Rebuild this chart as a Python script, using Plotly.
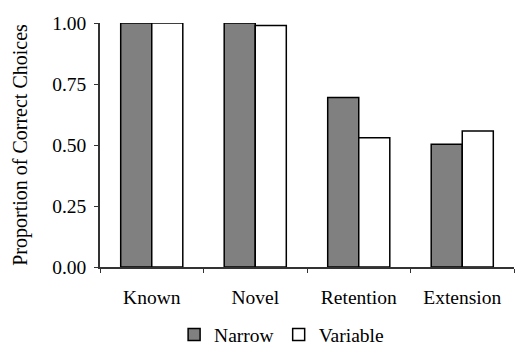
import plotly.graph_objects as go

categories = ["Known", "Novel", "Retention", "Extension"]
narrow = [1.00, 1.00, 0.695, 0.503]
variable = [1.00, 0.99, 0.53, 0.557]
y_ticks = [0, 0.25, 0.5, 0.75, 1.0]
y_labels = ["0.00", "0.25", "0.50", "0.75", "1.00"]

fam = "'Times New Roman', 'Liberation Serif', Times, serif"
font = dict(family=fam, size=19.5, color="#000")
title_font = dict(family=fam, size=20, color="#000")

fig = go.Figure()
fig.add_trace(go.Bar(name="Narrow", x=categories, y=narrow,
                     marker=dict(color="#808080", line=dict(color="#000", width=1.5))))
fig.add_trace(go.Bar(name="Variable", x=categories, y=variable,
                     marker=dict(color="#ffffff", line=dict(color="#000", width=1.5))))

fig.update_layout(
    width=518, height=345,
    margin=dict(l=100, r=4, t=23, b=78, autoexpand=False),
    plot_bgcolor="white", paper_bgcolor="white",
    font=font,
    barmode="group", bargap=0.4, bargroupgap=0,
    showlegend=True,
    legend=dict(orientation="h", x=0.179, xanchor="left", y=-0.198, yanchor="top",
                font=font, itemwidth=30, bgcolor="rgba(0,0,0,0)"),
    xaxis=dict(showline=True, linecolor="#333", linewidth=1.5, ticks="outside",
               tickson="boundaries", ticklen=4, tickcolor="#333", showgrid=False,
               tickfont=font, automargin=False, ticklabelstandoff=12),
    yaxis=dict(range=[0, 1.0], tickvals=y_ticks, ticktext=y_labels, showline=True,
               linecolor="#333", linewidth=1.5, ticks="outside", ticklen=4,
               tickcolor="#333", showgrid=False, zeroline=False, tickfont=font,
               automargin=False, ticklabelstandoff=4,
               title=dict(text="Proportion of Correct Choices", font=title_font, standoff=19)),
)

fig.write_html("out.html", config={"displayModeBar": False},
               post_script="document.body.style.margin='0';")
